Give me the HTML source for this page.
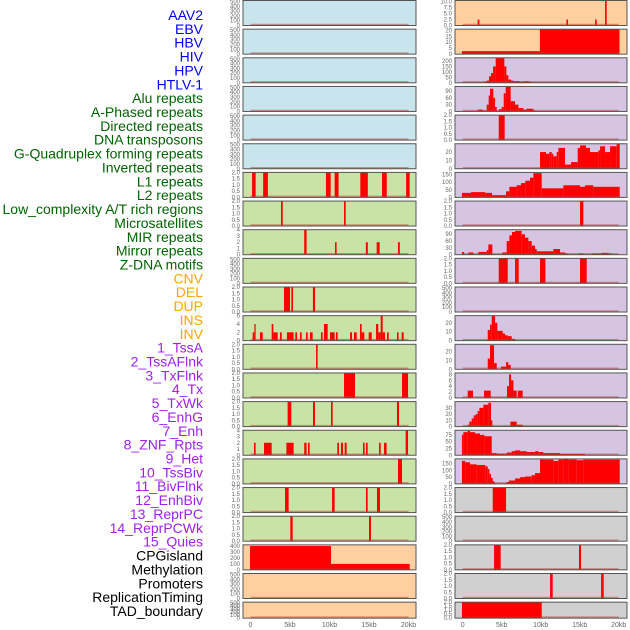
<!DOCTYPE html>
<html><head><meta charset="utf-8"><style>
html,body{margin:0;padding:0;background:#fff;width:630px;height:630px;overflow:hidden}
svg{display:block;font-family:"Liberation Sans",sans-serif}
</style></head><body>
<svg id="chart" width="630" height="630" viewBox="0 0 630 630"></svg>
<script>
const labels = ["AAV2","EBV","HBV","HIV","HPV","HTLV-1","Alu repeats","A-Phased repeats","Directed repeats","DNA transposons","G-Quadruplex forming repeats","Inverted repeats","L1 repeats","L2 repeats","Low_complexity A/T rich regions","Microsatellites","MIR repeats","Mirror repeats","Z-DNA motifs","CNV","DEL","DUP","INS","INV","1_TssA","2_TssAFlnk","3_TxFlnk","4_Tx","5_TxWk","6_EnhG","7_Enh","8_ZNF_Rpts","9_Het","10_TssBiv","11_BivFlnk","12_EnhBiv","13_ReprPC","14_ReprPCWk","15_Quies","CPGisland","Methylation","Promoters","ReplicationTiming","TAD_boundary"];
const labelColors = ["#0000ff","#006400","#ffa500","#a020f0","#000000"];
const labelGroupSizes = [6,13,5,15,5];
const xTickValues = [0,5,10,15,20];
const xTickLabels = ["0","5kb","10kb","15kb","20kb"];

const T500 = [0,100,200,300,400,500];
const T2 = [0,0.5,1,1.5,2];
// left column tracks: [start kb, end kb, value]
const L6 = [[0.2,0.65,2],[1.6,2.2,2],[9.55,10.15,2],[10.65,11.15,2],[13.9,14.85,2],[16.65,17.25,2],[19.7,20.15,2]];
const L7 = [[3.86,4.08,2],[11.84,12.05,2]];
const L8 = [[6.8,7.1,4],[10.7,10.9,2],[14.6,14.85,2],[15.97,16.35,2],[18.67,18.9,2]];
const L10 = [[4.24,5.0,2],[5.17,5.38,2],[7.9,8.17,2]];
const L11 = [[0.27,0.49,2],[0.49,0.65,4],[1.2,1.54,2],[2.68,2.89,4],[2.89,3.44,2],[3.73,3.95,2],[4.62,5.46,2],[5.67,5.89,2],[6.27,6.48,2],[7.03,7.24,2],[7.53,7.87,2],[8.92,9.13,2],[9.3,9.77,4],[10.06,10.65,2],[10.82,11.03,2],[12.6,12.85,2],[13.1,13.44,2],[13.86,14.07,4],[14.07,14.41,2],[14.96,15.34,2],[15.89,16.18,4],[16.18,16.48,2],[16.48,16.73,6],[16.73,17.02,2],[17.28,17.49,2],[18.54,18.75,2],[19.13,19.39,2]];
const L12 = [[8.3,8.5,2]];
const L13 = [[11.84,13.23,2],[19.18,19.94,2]];
const L14 = [[4.7,5.17,2],[7.91,8.16,2],[10.19,10.4,2],[18.54,18.8,2]];
const L15 = [[0.44,0.65,2],[1.71,2.68,2],[4.54,5.46,2],[6.8,7.1,2],[7.28,7.49,2],[10.99,11.2,2],[11.45,11.71,2],[11.92,12.17,2],[14.24,14.45,2],[14.62,14.83,2],[16.27,16.48,2],[16.9,17.23,2],[19.64,19.94,4]];
const L16 = [[18.67,19.18,2]];
const L17 = [[4.37,4.83,2],[10.32,10.65,2],[14.62,14.83,2],[16.01,16.39,2]];
const L18 = [[5.04,5.34,2],[15.0,15.25,2]];
const L19 = [[-0.06,10.19,400],[10.19,20.15,100]];
// right column tracks
const R0 = [[1.92,2.14,2.5],[13.3,13.5,2.5],[16.97,17.18,2.5],[18.25,18.46,10.5]];
const R1 = [[-0.1,9.9,2.5],[9.9,20.1,21]];
const R2 = [[2.74,3.08,10],[3.08,3.38,20],[3.38,3.63,60],[3.63,3.89,90],[3.89,4.23,150],[4.23,5.34,230],[5.34,5.6,150],[5.6,5.85,70],[5.85,6.2,30],[6.2,6.5,20],[6.5,7.35,15],[7.35,7.99,10],[7.99,8.33,15],[8.33,8.76,10]];
const R3 = [[1.92,2.56,8],[2.56,3.08,3],[3.08,3.33,30],[3.33,3.5,70],[3.5,3.93,100],[3.93,4.15,60],[4.15,4.36,20],[4.36,4.66,3],[4.66,5.0,10],[5.0,5.26,20],[5.26,5.51,80],[5.51,6.15,110],[6.15,6.71,45],[6.71,7.14,30],[7.14,7.78,15],[7.78,8.2,8],[8.2,9.06,12],[9.06,9.27,5]];
const R4 = [[4.62,5.38,2]];
const R5 = [[9.91,10.68,20],[10.68,11.11,18],[11.11,11.41,20],[11.41,11.62,18],[11.62,12.05,15],[12.05,12.26,20],[12.26,13.12,25],[13.12,13.89,5],[13.89,14.74,8],[14.74,15.04,25],[15.04,15.81,28],[15.81,16.32,25],[16.32,17.39,20],[17.39,17.61,22],[17.61,18.25,27],[18.25,18.89,20],[18.89,19.74,27],[19.74,20.13,30]];
const R6 = [[-0.1,1.07,30],[1.07,2.9,35],[2.9,3.76,30],[3.76,5.56,15],[5.56,5.98,40],[5.98,6.92,70],[6.92,7.48,80],[7.48,8.03,95],[8.03,8.63,110],[8.63,9.06,130],[9.06,10.13,160],[10.13,12.9,60],[12.9,15.04,80],[15.04,15.68,70],[15.68,16.75,80],[16.75,20.13,70]];
const R7 = [[15.04,15.47,2]];
const R8 = [[-0.1,0.17,12],[0.73,1.37,10],[2.0,3.08,12],[3.08,3.29,20],[3.29,3.8,45],[5.09,5.64,10],[5.64,5.98,60],[5.98,6.32,85],[6.32,6.71,100],[6.71,7.56,105],[7.56,7.99,90],[7.99,8.42,75],[8.42,8.85,60],[8.85,9.27,40],[9.27,9.49,25],[9.49,11.62,15],[11.62,12.48,25],[12.48,13.12,10],[13.12,13.55,5],[14.83,15.47,5],[16.54,17.82,5],[17.82,18.68,8],[18.68,19.1,5]];
const R9 = [[4.62,5.77,2],[6.71,7.18,2],[9.91,10.6,2],[15.04,15.9,2]];
const R11 = [[3.21,3.5,12],[3.5,3.72,18],[3.72,4.15,28],[4.15,4.44,20],[4.44,5.13,11],[5.13,5.43,8],[5.43,5.77,6],[5.77,6.28,5],[6.28,6.71,2]];
const R12 = [[3.21,3.5,12],[3.5,4.02,27],[4.02,4.36,7],[4.91,5.56,3],[5.56,5.85,8],[5.85,6.15,5]];
const R13 = [[0.64,1.32,2.5],[2.74,3.59,2.5],[5.68,5.94,4],[5.94,6.2,8],[6.2,6.5,6],[6.5,6.92,2.5],[7.05,7.69,2.5]];
const R14 = [[0.64,0.85,3],[0.85,1.15,8],[1.15,1.41,13],[1.41,1.67,18],[1.67,1.92,20],[1.92,2.14,25],[2.14,2.65,30],[2.65,3.29,35],[3.29,3.63,38],[3.63,3.8,10],[6.11,6.92,8],[6.92,7.69,3]];
const R15 = [[-0.1,0.08,75],[0.08,0.64,85],[0.64,0.94,90],[0.94,1.58,85],[1.58,2.22,80],[2.22,2.78,75],[2.78,3.72,70],[3.72,4.36,8],[4.36,5.64,6],[5.64,6.28,10],[6.28,6.71,15],[6.71,7.35,18],[7.35,8.2,15],[8.2,9.27,12],[9.27,9.7,15],[9.7,10.34,12],[10.34,12.48,8],[12.48,15.68,5]];
const R16 = [[-0.1,0.34,170],[0.34,0.94,160],[0.94,1.79,145],[1.79,2.9,140],[2.9,3.21,130],[3.21,3.42,110],[3.42,3.63,75],[3.63,3.85,45],[3.85,4.06,20],[4.06,4.36,5],[5.43,5.64,5],[5.64,5.94,15],[5.94,6.71,25],[6.71,7.35,40],[7.35,7.99,50],[7.99,8.85,55],[8.85,9.27,65],[9.27,9.91,80],[9.91,11.62,180],[11.62,12.26,170],[12.26,12.9,180],[12.9,13.55,185],[13.55,14.62,180],[14.62,15.47,175],[15.47,20.13,180]];
const R17 = [[3.85,5.56,2]];
const R19 = [[4.02,4.87,2],[14.91,15.17,2]];
const R20 = [[11.2,11.54,2],[17.74,18.08,2]];
const R21 = [[-0.1,10.13,2]];

const BLUE="#c8e4ec", GREEN="#c9e2a5", ORANGE="#fecf9f", PURPLE="#d5c5e2", GRAY="#d0d0d0";
const leftRows = [
 [BLUE,T500,520,[]],[BLUE,T500,520,[]],[BLUE,T500,520,[]],[BLUE,T500,520,[]],[BLUE,T500,520,[]],[BLUE,T500,520,[]],
 [GREEN,T2,2,L6],[GREEN,T2,2,L7],[GREEN,[0,1,2,3,4],4,L8],[GREEN,T500,520,[]],[GREEN,T2,2,L10],[GREEN,[0,2,4,6],6,L11],
 [GREEN,T2,2,L12],[GREEN,T2,2,L13],[GREEN,T2,2,L14],[GREEN,[0,1,2,3,4],4,L15],[GREEN,T2,2,L16],[GREEN,T2,2,L17],[GREEN,T2,2,L18],
 [ORANGE,[0,100,200,300,400],420,L19],[ORANGE,T500,520,[]],[ORANGE,T500,520,[]]];
const rightRows = [
 [ORANGE,[0,2.5,5,7.5,10],10.5,R0],[ORANGE,[0,5,10,15,20],21,R1],[PURPLE,[0,50,100,150,200],230,R2],[PURPLE,[0,30,60,90],110,R3],
 [PURPLE,T2,2,R4],[PURPLE,[0,10,20],30,R5],[PURPLE,[0,50,100,150],165,R6],[PURPLE,T2,2,R7],[PURPLE,[0,30,60,90],110,R8],
 [PURPLE,T2,2,R9],[PURPLE,T500,520,[]],[PURPLE,[0,10,20],28,R11],[PURPLE,[0,10,20],28,R12],[PURPLE,[0,2,4,6,8],8.5,R13],
 [PURPLE,[0,10,20,30],40,R14],[PURPLE,[0,25,50,75],92,R15],[PURPLE,[0,50,100,150],185,R16],[GRAY,T2,2,R17],[GRAY,T500,520,[]],
 [GRAY,T2,2,R19],[GRAY,T2,2,R20],[GRAY,T2,2,R21]];

const NS="http://www.w3.org/2000/svg";
const svg=document.getElementById('chart');
function mk(tag,attrs,parent){const e=document.createElementNS(NS,tag);for(const k in attrs)e.setAttribute(k,attrs[k]);(parent||svg).appendChild(e);return e;}

// labels
let li=0;
labelGroupSizes.forEach((n,g)=>{for(let j=0;j<n;j++){const t=mk('text',{x:203,y:20+li*13.86,'text-anchor':'end','font-size':14,fill:labelColors[g]});


t.textContent=labels[li];li++;}});

function xScale(x0,kb){return x0+kb*7.9;}
function drawColumn(rows,px0,px1,zero,side){
 rows.forEach((r,i)=>{
  const top=0.5+28.65*i, h=(i===rows.length-1)?16:25, bot=top+h;
  const g=mk('g',{});
  
  
  mk('rect',{x:px0,y:top,width:px1-px0,height:h,fill:r[0]},g);
  const ymax=r[2];
  const sx=kb=>zero+kb*(side==='left'?7.9:7.8);
  const sy=v=>bot-v/ymax*(h);
  r[3].forEach(d=>{
   const b=mk('rect',{x:sx(d[0]),y:sy(d[2]),width:Math.max(1,sx(d[1])-sx(d[0])),height:bot-sy(d[2]),fill:'#ff0000'},g);
   
   
  });
  mk('line',{x1:sx(0),x2:sx(20),y1:bot-1,y2:bot-1,stroke:'#c0392b','stroke-width':1.5,opacity:0.5},g);
  mk('rect',{x:px0,y:top,width:px1-px0,height:h,fill:'none',stroke:'#555','stroke-width':1},g);
  r[1].forEach(tv=>{
   const t=mk('text',{x:px0-3,y:sy(tv)+2,'text-anchor':'end','font-size':6,fill:'#666'},g);
   
   
   t.textContent=String(tv).length<3&&ymax<=2.1?tv.toFixed(1):(ymax===10.5?tv.toFixed(1):String(tv));
  });
 });
 xTickValues.forEach((v,k)=>{
  const t=mk('text',{x:zero+v*(side==='left'?7.9:7.8),y:627,'text-anchor':'middle','font-size':7,fill:'#666'});
  
  
  t.textContent=xTickLabels[k];
 });
}
drawColumn(leftRows,243,416,250.5,'left');
drawColumn(rightRows,455,627,462.7,'right');
</script>
</body></html>
